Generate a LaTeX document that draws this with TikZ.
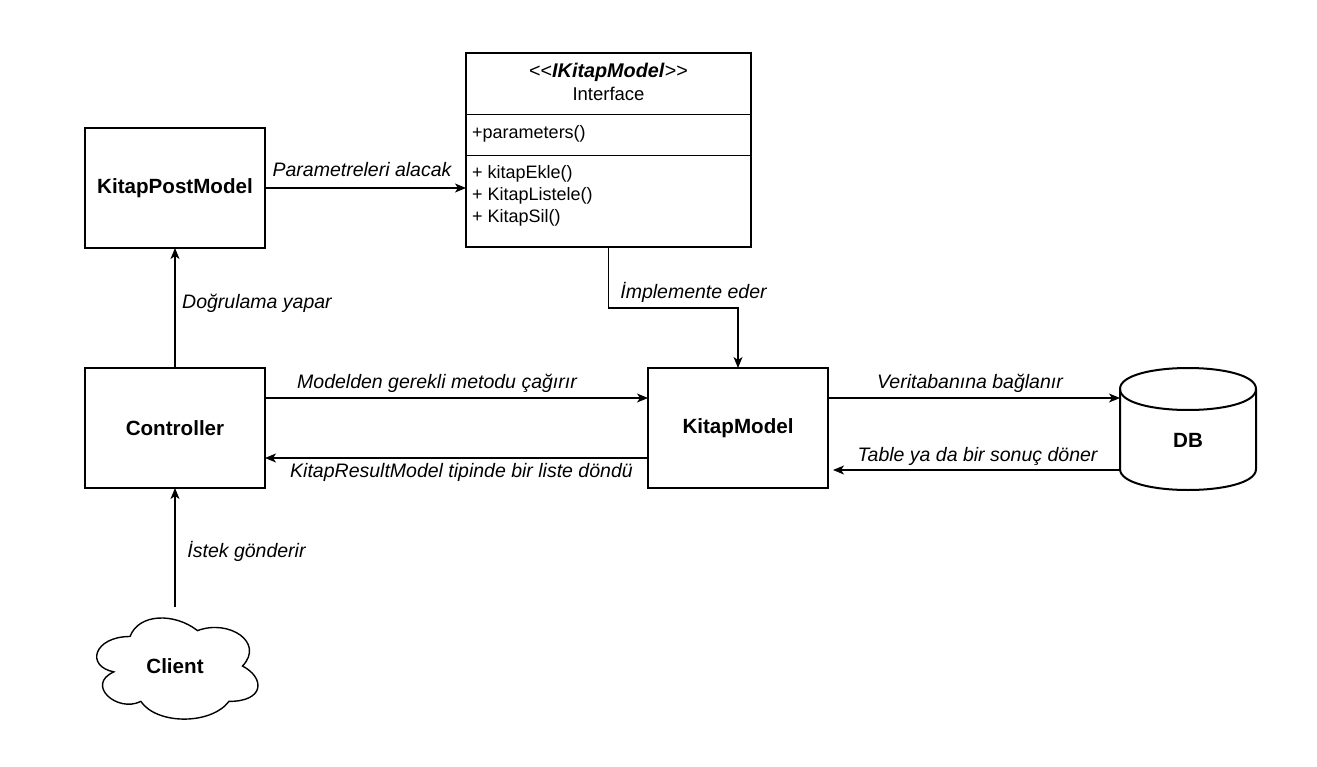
\documentclass[tikz,border=0pt]{standalone}
\usepackage{fontspec}
\setmainfont{Liberation Sans}
\usetikzlibrary{arrows.meta,calc}
\begin{document}
\begin{tikzpicture}[x=1pt,y=-1pt,
  line join=miter,
  box/.style={draw, line width=1.3pt, minimum width=180pt, minimum height=120pt, inner sep=0pt, outer sep=0pt, font=\fontsize{20.6}{24}\selectfont\bfseries},
  ghost/.style={inner sep=0pt, outer sep=0pt},
  arr/.style={line width=1.3pt, -{Stealth[length=11pt,width=9pt,inset=3pt]}},
  lbl/.style={font=\fontsize{19.5}{23}\selectfont\itshape, inner sep=0pt},
  uml/.style={font=\fontsize{18}{21}\selectfont, inner sep=0pt, anchor=west}
]
\useasboundingbox (0,0) rectangle (1317,767);

% boxes
\node[box] (kpm) at (175,188) {KitapPostModel};
\node[box] (ctrl) at (175,428) {Controller};
\node[box] (km) at (738,428) {KitapModel};

% interface class
\node[draw, line width=1.3pt, minimum width=285pt, minimum height=194pt, inner sep=0pt, outer sep=0pt, anchor=north west] (ikm) at (466,53) {};
\draw[line width=1.3pt] (ikm.west |- 0,114.5) -- (ikm.east |- 0,114.5);
\draw[line width=1.3pt] (ikm.west |- 0,155.5) -- (ikm.east |- 0,155.5);
\node[font=\fontsize{19.8}{22}\selectfont, inner sep=0pt] (ikmt) at (608.5,72) {<\kern0pt<\textbf{\textit{IKitapModel}}>\kern0pt>};
\node[font=\fontsize{18.5}{21}\selectfont, inner sep=0pt] (ikmi) at (608.5,94) {Interface};
\node[uml] (p1) at (472,134) {+parameters()};
\node[uml] (m1) at (472,174) {+ kitapEkle()};
\node[uml] (m2) at (472,196) {+ KitapListele()};
\node[uml] (m3) at (472,218) {+ KitapSil()};

% cloud
\node[ghost, minimum width=180pt, minimum height=118pt, font=\fontsize{20.6}{24}\selectfont\bfseries] (client) at (175,666) {Client};
\begin{scope}[shift={(client.north west)}, x=180pt, y=-118pt]
\draw[line width=1.4pt] (0.25,0.25) .. controls (0.05,0.25) and (0,0.5) .. (0.16,0.55)
  .. controls (0,0.66) and (0.18,0.9) .. (0.31,0.8)
  .. controls (0.4,1) and (0.7,1) .. (0.8,0.8)
  .. controls (1,0.8) and (1,0.6) .. (0.875,0.5)
  .. controls (1,0.3) and (0.8,0.1) .. (0.625,0.2)
  .. controls (0.5,0.05) and (0.3,0.05) .. (0.25,0.25) -- cycle;
\end{scope}

% database
\node[ghost, minimum width=136pt, minimum height=122pt] (db) at (1188,429) {};
\begin{scope}[shift={(db.north west)}, x=136pt, y=-1pt]
\draw[line width=2pt] (0,21) .. controls (0,-7) and (1,-7) .. (1,21) -- (1,101)
  .. controls (1,129) and (0,129) .. (0,101) -- cycle;
\draw[line width=2pt] (0,21) .. controls (0,49) and (1,49) .. (1,21);
\end{scope}
\node[ghost, font=\fontsize{20.6}{24}\selectfont\bfseries] (dbt) at (1188,440) {DB};

% connectors
\draw[arr] (kpm.east |- 0,188) -- (ikm.west |- 0,188);
\draw[arr] (ikm.south) -- (ikm.south |- 0,308) -| (km.north);
\draw[arr] (ctrl.north) -- (kpm.south);
\draw[arr] (ctrl.east |- 0,398) -- (km.west |- 0,398);
\draw[arr] (km.west |- 0,458) -- (ctrl.east |- 0,458);
\draw[arr] (km.east |- 0,398) -- (db.west |- 0,398);
\draw[arr, shorten >=5pt] (db.west |- 0,470) -- (km.east |- 0,470);
\draw[arr] (client.north) -- (ctrl.south);

% labels
\node[lbl] (l1) at (362,170) {Parametreleri alacak};
\node[lbl] (l2) at (693.5,292) {İmplemente eder};
\node[lbl] (l3) at (257,303) {Doğrulama yapar};
\node[lbl] (l4) at (437,383) {Modelden gerekli metodu çağırır};
\node[lbl] (l5) at (461.5,472) {KitapResultModel tipinde bir liste döndü};
\node[lbl] (l6) at (970,383) {Veritabanına bağlanır};
\node[lbl] (l7) at (977.5,456) {Table ya da bir sonuç döner};
\node[lbl] (l8) at (246.5,551) {İstek gönderir};
\end{tikzpicture}
\end{document}
